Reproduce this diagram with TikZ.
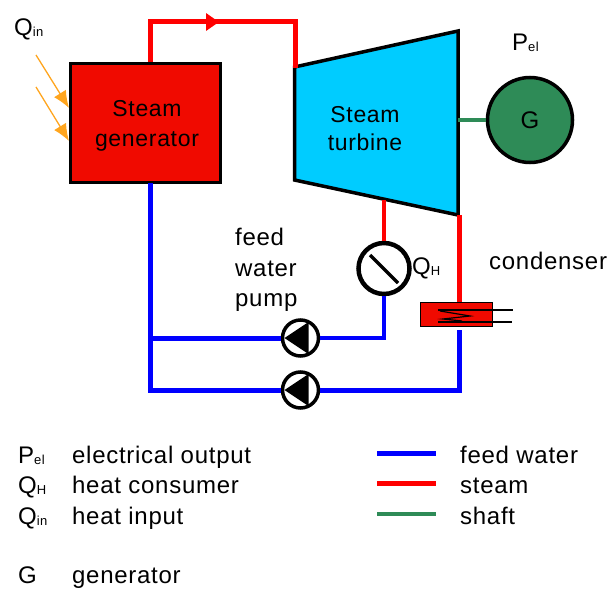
\documentclass[tikz,border=0pt]{standalone}
\usepackage{fontspec}
\setmainfont{Liberation Sans}[LetterSpace=3]
\usepackage{tikz}
\usetikzlibrary{arrows.meta, positioning}
\definecolor{boilerred}{RGB}{240,10,0}
\definecolor{turbineblue}{RGB}{0,204,255}
\definecolor{shaftgreen}{RGB}{46,139,87}
\definecolor{heatorange}{RGB}{255,165,30}
\newcommand{\sub}[1]{\raisebox{-1pt}{\fontsize{13}{13}\selectfont #1}}

\begin{document}
\begin{tikzpicture}[x=1pt, y=-1pt, font=\fontsize{24}{24}\selectfont]
  \tikzstyle{steam}=[draw=red, line width=5pt]
  \tikzstyle{thinsteam}=[draw=red, line width=3.5pt]
  \tikzstyle{water}=[draw=blue, line width=5pt]
  \tikzstyle{thinwater}=[draw=blue, line width=3.5pt]
  \tikzstyle{shaft}=[draw=shaftgreen, line width=4.5pt]
  \tikzstyle{heat}=[draw=heatorange, line width=1.3pt, -{Latex[length=17pt,width=14pt]}]
  \tikzstyle{generator}=[rectangle, draw=black, line width=3.5pt, fill=boilerred, minimum width=150pt, minimum height=119pt, inner sep=0pt]
  \tikzstyle{boxtext}=[align=center, inner sep=0pt, font=\fontsize{23}{23}\selectfont]
  \tikzstyle{machine}=[circle, draw=black, line width=3.5pt, fill=shaftgreen, minimum size=85pt, inner sep=0pt]
  \tikzstyle{consumer}=[circle, draw=black, line width=4.5pt, fill=white, minimum size=51pt, inner sep=0pt]
  \tikzstyle{pump}=[circle, draw=black, line width=3.5pt, fill=white, minimum size=36pt, inner sep=0pt]
  \tikzstyle{condenser}=[rectangle, draw=black, line width=1.5pt, fill=boilerred, minimum width=72pt, minimum height=24pt, inner sep=0pt]
  \tikzstyle{caption}=[inner sep=0pt, anchor=base west]

  \useasboundingbox (0,0) rectangle (609,588);

  \coordinate (geninlet) at (150,62);
  \coordinate (genoutlet) at (150,183);
  \coordinate (arrowbase) at (205,22);
  \coordinate (arrowtip) at (219,22);
  \coordinate (turbinlet) at (295,68);
  \coordinate (turbtapping) at (384,200);
  \coordinate (turbexhaust) at (459,215);
  \coordinate (turbshaft) at (458,120);
  \coordinate (junction) at (150,338);
  \coordinate (cornerlow) at (150,390);
  \coordinate (condinlet) at (459,302);
  \coordinate (condoutlet) at (459,330);

  \node (steamgen) [generator] at (145.5,123) {};
  \node (steamgentext) [boxtext] at (147,126) {Steam\\[7pt]generator};
  \draw [fill=turbineblue, draw=black, line width=3.5pt] (294.5,67) -- (458,31) -- (458,215) -- (294.5,180) -- cycle;
  \node (turbine) [boxtext] at (365,129) {Steam\\[5pt]turbine};
  \node (gen) [machine] at (530,120) {G};
  \node (heatuser) [consumer] at (384,268.5) {};
  \node (pumpup) [pump] at (300.5,338) {};
  \node (pumpdown) [pump] at (300.5,390) {};
  \node (cond) [condenser] at (456.5,314.5) {};

  % steam side
  \draw [steam] (geninlet) |- (arrowtip) -| (turbinlet);
  \draw [steam, -{Triangle[length=13pt,width=17pt]}] (arrowbase) -- (arrowtip);
  \draw [thinsteam] (turbtapping) -- (heatuser);
  \draw [steam] (turbexhaust) -- (condinlet);
  \draw [shaft] (turbshaft) -- (gen);

  % feed water side
  \draw [water] (genoutlet) -- (cornerlow) -- (pumpdown);
  \draw [water] (junction) -- (pumpup);
  \draw [thinwater] (pumpup) -| (heatuser);
  \draw [water] (pumpdown) -| (condoutlet);

  % symbols on top of the pipes
  \draw [line width=3.5pt] (370,255) -- (398,283);
  \foreach \p in {pumpup, pumpdown} {
    \fill ([xshift=-16pt]\p.center) -- ([xshift=8pt,yshift=-16pt]\p.center) -- ([xshift=8pt,yshift=16pt]\p.center) -- cycle;
  }
  \draw [line width=1.2pt] (438,310) -- (513,310);
  \draw [line width=1.2pt] (438,322) -- (512,322);
  \draw [line width=1.2pt] (440,311) -- (470,316) -- (443,319) -- (462,321);

  % heat input
  \coordinate (heatstartone) at (36,55);
  \coordinate (heatendone) at (69,108);
  \coordinate (heatstarttwo) at (36,87);
  \coordinate (heatendtwo) at (69,141);
  \draw [heat] (heatstartone) -- (heatendone);
  \draw [heat] (heatstarttwo) -- (heatendtwo);

  \node (qinlabel) [caption] at (14,36) {Q\sub{in}};
  \node (pellabel) [caption] at (512,51) {P\sub{el}};
  \node (qhlabel) [caption] at (412,274) {Q\sub{H}};
  \node (condlabel) [caption] at (489,269) {condenser};
  \node (feedlabel) [caption] at (235,245) {feed};
  \node (waterlabel) [caption] at ([yshift=-31pt]feedlabel.base west) {water};
  \node (pumplabel) [caption] at ([yshift=-30pt]waterlabel.base west) {pump};

  % legend
  \node (legpel) [caption] at (18,463) {P\sub{el}};
  \node (legqh) [caption] at (18,493) {Q\sub{H}};
  \node (legqin) [caption] at (18,524) {Q\sub{in}};
  \node (legg) [caption] at (18,583) {G};
  \node (textpel) [caption] at (72,463) {electrical output};
  \node (textqh) [caption] at (72,493) {heat consumer};
  \node (textqin) [caption] at (72,524) {heat input};
  \node (textg) [caption] at (72,583) {generator};

  \coordinate (keywaterl) at (377,453);
  \coordinate (keywaterr) at (436,453);
  \coordinate (keysteaml) at (377,483);
  \coordinate (keysteamr) at (436,483);
  \coordinate (keyshaftl) at (377,514);
  \coordinate (keyshaftr) at (436,514);
  \draw [water] (keywaterl) -- (keywaterr);
  \draw [steam] (keysteaml) -- (keysteamr);
  \draw [shaft] (keyshaftl) -- (keyshaftr);
  \node (textwater) [caption] at (460,463) {feed water};
  \node (textsteam) [caption] at (460,493) {steam};
  \node (textshaft) [caption] at (460,524) {shaft};
\end{tikzpicture}
\end{document}
